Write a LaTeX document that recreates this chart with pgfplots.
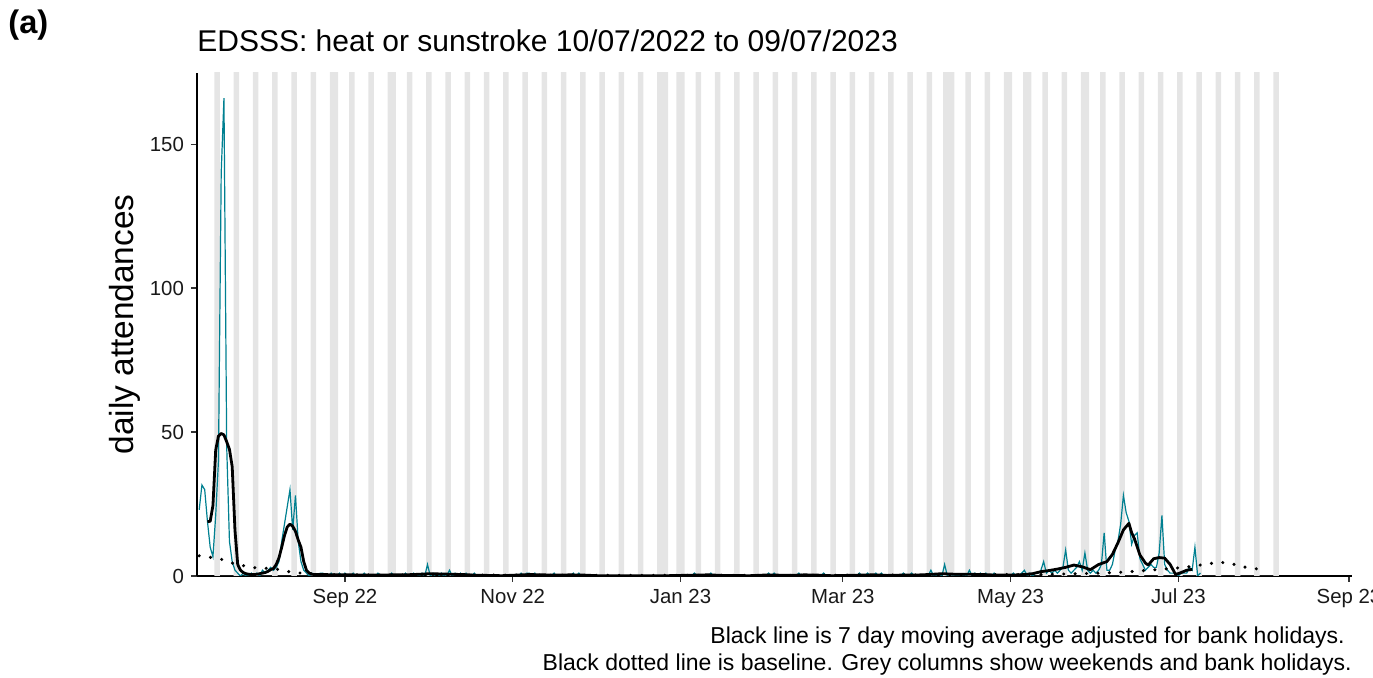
\documentclass[border=0pt]{standalone}
\usepackage{pgfplots}
\pgfplotsset{compat=1.18}
\usepackage{fontspec}
\setmainfont{Liberation Sans}
\definecolor{teal1}{RGB}{0,128,145}
\definecolor{wkgrey}{RGB}{229,229,229}
\begin{document}
\begin{tikzpicture}
\path[use as bounding box] (-98.5pt,-51pt) rectangle (588pt,288pt);
\begin{axis}[
  at={(0,0)}, anchor=south west, scale only axis,
  width=577.5pt, height=251.5pt,
  xmin=-0.8, xmax=419.1, ymin=0, ymax=174.7,
  axis x line=bottom, axis y line=left,
  axis line style={-, line width=1pt, black},
  xtick={53,114,175,234,295,356,418},
  xticklabels={Sep 22, Nov 22, Jan 23, Mar 23, May 23, Jul 23, Sep 23},
  ytick={0,50,100,150},
  tick align=outside, major tick length=3pt,
  tick style={line width=0.6pt, black!80},
  ticklabel style={font=\fontsize{10.2}{12}\selectfont, black!90},
  /pgf/number format/assume math mode=true,
  clip=true,
]
% grey columns: weekends and bank holidays
\addplot[const plot, fill=wkgrey, draw=none] coordinates {
(5.5,200)(7.5,0)(12.5,200)(14.5,0)(19.5,200)(21.5,0)(26.5,200)(28.5,0)(33.5,200)(35.5,0)
(40.5,200)(42.5,0)(47.5,200)(50.5,0)(54.5,200)(56.5,0)(61.5,200)(63.5,0)(68.5,200)(71.5,0)
(75.5,200)(77.5,0)(82.5,200)(84.5,0)(89.5,200)(91.5,0)(96.5,200)(98.5,0)(103.5,200)(105.5,0)
(110.5,200)(112.5,0)(117.5,200)(119.5,0)(124.5,200)(126.5,0)(131.5,200)(133.5,0)(138.5,200)(140.5,0)
(145.5,200)(147.5,0)(152.5,200)(154.5,0)(159.5,200)(161.5,0)(166.5,200)(170.5,0)(173.5,200)(176.5,0)
(180.5,200)(182.5,0)(187.5,200)(189.5,0)(194.5,200)(196.5,0)(201.5,200)(203.5,0)(208.5,200)(210.5,0)
(215.5,200)(217.5,0)(222.5,200)(224.5,0)(229.5,200)(231.5,0)(236.5,200)(238.5,0)(243.5,200)(245.5,0)
(250.5,200)(252.5,0)(257.5,200)(259.5,0)(264.5,200)(266.5,0)(270.5,200)(274.5,0)(278.5,200)(280.5,0)
(285.5,200)(287.5,0)(292.5,200)(295.5,0)(299.5,200)(302.5,0)(306.5,200)(308.5,0)(313.5,200)(315.5,0)
(320.5,200)(323.5,0)(327.5,200)(329.5,0)(334.5,200)(336.5,0)(341.5,200)(343.5,0)(348.5,200)(350.5,0)
(355.5,200)(357.5,0)(362.5,200)(364.5,0)(369.5,200)(371.5,0)(376.5,200)(378.5,0)(383.5,200)(385.5,0)
(390.5,200)(392.5,0)
} \closedcycle;
% daily attendances
\addplot[teal1, line width=0.6pt] coordinates {
(0,23)(1,31.6)(2,30)(3,19)(4,10)(5,6.7)(6,21)(7,40)(8,140)(9,166)
(10,45)(11,12)(12,5)(13,2)(14,1)(15,0)(16,1)(17,0)(18,0)(19,1)
(20,0)(21,1)(22,0)(23,2)(24,1)(25,2)(26,3)(27,2)(28,3)(29,5)
(30,12)(31,18)(32,24)(33,30)(34,16)(35,28)(36,12)(37,5)(38,2)(39,1)
(40,0)(41,1)(42,0)(43,0)(44,1)(45,1)(46,0)(47,0)(48,1)(49,0)
(50,0)(51,1)(52,0)(53,1)(54,0)(55,0)(56,1)(57,0)(58,0)(59,0)
(60,1)(61,0)(62,0)(63,0)(64,0)(65,1)(66,0)(67,0)(68,0)(69,0)
(70,1)(71,0)(72,0)(73,0)(74,0)(75,1)(76,0)(77,0)(78,1)(79,0)
(80,0)(81,1)(82,0)(83,4)(84,0)(85,1)(86,0)(87,0)(88,1)(89,0)
(90,0)(91,2)(92,0)(93,1)(94,0)(95,1)(96,0)(97,1)(98,0)(99,0)
(100,1)(101,0)(102,0)(103,0)(104,0)(105,0)(106,0)(107,0)(108,0)(109,0)
(110,0)(111,0)(112,0)(113,0)(114,0)(115,0)(116,0)(117,1)(118,0)(119,1)
(120,1)(121,0)(122,1)(123,0)(124,0)(125,0)(126,0)(127,0)(128,0)(129,1)
(130,0)(131,0)(132,0)(133,0)(134,0)(135,0)(136,1)(137,0)(138,1)(139,0)
(140,0)(141,0)(142,0)(143,0)(144,0)(145,0)(146,0)(147,0)(148,0)(149,0)
(150,0)(151,0)(152,0)(153,0)(154,0)(155,0)(156,0)(157,0)(158,0)(159,0)
(160,0)(161,0)(162,0)(163,0)(164,0)(165,0)(166,0)(167,0)(168,0)(169,0)
(170,0)(171,0)(172,0)(173,0)(174,0)(175,0)(176,0)(177,0)(178,0)(179,0)
(180,1)(181,0)(182,0)(183,0)(184,0)(185,0)(186,1)(187,0)(188,0)(189,0)
(190,0)(191,0)(192,0)(193,0)(194,0)(195,0)(196,0)(197,0)(198,0)(199,0)
(200,0)(201,0)(202,0)(203,0)(204,0)(205,0)(206,0)(207,1)(208,0)(209,1)
(210,0)(211,0)(212,0)(213,0)(214,0)(215,0)(216,0)(217,0)(218,1)(219,0)
(220,0)(221,0)(222,0)(223,0)(224,0)(225,0)(226,0)(227,1)(228,0)(229,0)
(230,0)(231,0)(232,0)(233,0)(234,0)(235,0)(236,0)(237,0)(238,0)(239,0)
(240,1)(241,0)(242,0)(243,1)(244,0)(245,0)(246,1)(247,0)(248,1)(249,0)
(250,0)(251,0)(252,0)(253,0)(254,0)(255,0)(256,1)(257,0)(258,0)(259,1)
(260,0)(261,0)(262,0)(263,0)(264,0)(265,0)(266,2)(267,0)(268,0)(269,0)
(270,0)(271,4)(272,0)(273,0)(274,0)(275,0)(276,0)(277,0)(278,0)(279,0)
(280,2)(281,0)(282,1)(283,0)(284,1)(285,0)(286,1)(287,0)(288,0)(289,1)
(290,0)(291,0)(292,0)(293,0)(294,0)(295,0)(296,1)(297,0)(298,0)(299,1)
(300,2)(301,0)(302,1)(303,0)(304,1)(305,1)(306,2)(307,5)(308,1)(309,2)
(310,1)(311,2)(312,1)(313,2)(314,3)(315,9)(316,2)(317,1)(318,2)(319,3)
(320,5)(321,2)(322,8)(323,2)(324,1)(325,2)(326,1)(327,2)(328,4)(329,15)
(330,2)(331,2)(332,4)(333,9)(334,12)(335,18)(336,28)(337,22)(338,19)(339,11)
(340,14)(341,15)(342,6)(343,4)(344,2)(345,3)(346,4)(347,3)(348,3)(349,8)
(350,21)(351,4)(352,2)(353,1)(354,1)(355,1)(356,0)(357,1)(358,1)(359,1)
(360,3)(361,2)(362,10)(363,0)(364,1)
};
% 7 day moving average
\addplot[black, line width=1.4pt, line join=round] coordinates {
(3,18.9)(4,19)(5,24.5)(6,43.7)(7,48.6)(8,49.5)(9,49)(10,46.6)(11,44)(12,38)
(13,16)(14,4)(15,2)(16,1.2)(17,0.8)(18,0.6)(19,0.5)(20,0.5)(21,0.6)(22,0.8)
(23,1)(24,1.2)(25,1.6)(26,2.2)(27,2.6)(28,4)(29,6.3)(30,10)(31,14)(32,17)
(33,18)(34,17.3)(35,15.5)(36,12.5)(37,10)(38,5)(39,2)(40,1)(41,0.6)(42,0.5)
(45,0.5)(50,0.4)(55,0.4)(60,0.3)(65,0.3)(70,0.4)(75,0.4)(80,0.6)(84,0.8)(88,0.7)
(92,0.6)(96,0.5)(100,0.3)(105,0.2)(110,0.1)(115,0.3)(120,0.5)(125,0.4)(130,0.3)(135,0.4)
(140,0.3)(145,0.1)(150,0.1)(160,0.1)(170,0.1)(175,0.2)(180,0.3)(185,0.4)(190,0.2)(200,0.1)
(205,0.3)(210,0.3)(215,0.2)(220,0.4)(225,0.3)(230,0.1)(240,0.3)(245,0.4)(250,0.2)(255,0.3)
(260,0.3)(265,0.5)(270,0.8)(275,0.6)(280,0.6)(285,0.5)(290,0.3)(295,0.3)(300,0.5)(303,0.8)
(306,1.5)(309,1.9)(312,2.4)(315,3)(318,3.8)(321,3.2)(324,2.2)(327,4)(330,5)(332,7.5)
(334,11.5)(336,16)(338,18.3)(339,15)(340,13)(342,7.3)(344,4.5)(345,3.8)(347,6)(349,6.4)
(351,6.2)(353,4)(355,0.5)(357,1.2)(359,2)(361,2.3)
};
% baseline
\addplot[black, line width=1.7pt, line cap=round, dash pattern=on 0pt off 5.7pt, smooth] coordinates {
(0,7)(4,6.5)(8,5.8)(12,4.5)(16,3.6)(20,2.9)(24,2.7)(28,2.4)(32,1.6)(36,1.1)
(40,0.8)(45,0.5)(55,0.4)(70,0.3)(100,0.3)(150,0.2)(200,0.2)(250,0.3)(280,0.4)(300,0.5)
(320,0.8)(335,1.3)(345,2)(357,2.9)(362,3.5)(366,4.1)(370,4.6)(374,4.6)(378,3.5)(382,2.8)(386,2.3)
};
\end{axis}
\node[anchor=west, inner sep=0pt, font=\fontsize{16.3}{19}\selectfont\bfseries] at (-94.5pt,275.5pt) {(a)};
\node[anchor=base west, inner sep=0pt, font=\fontsize{15}{18}\selectfont] at (0pt,262pt) {EDSSS: heat or sunstroke 10/07/2022 to 09/07/2023};
\node[rotate=90, font=\fontsize{16.7}{20}\selectfont] at (-36pt,125.75pt) {daily attendances};
\node[anchor=base east, inner sep=0pt, font=\fontsize{11.5}{14}\selectfont] at (574pt,-34pt) {Black line is 7 day moving average adjusted for bank holidays.};
\node[anchor=base east, inner sep=0pt, font=\fontsize{11.5}{14}\selectfont] at (577.5pt,-47.5pt) {Black dotted line is baseline. Grey columns show weekends and bank holidays.};
\end{tikzpicture}
\end{document}
